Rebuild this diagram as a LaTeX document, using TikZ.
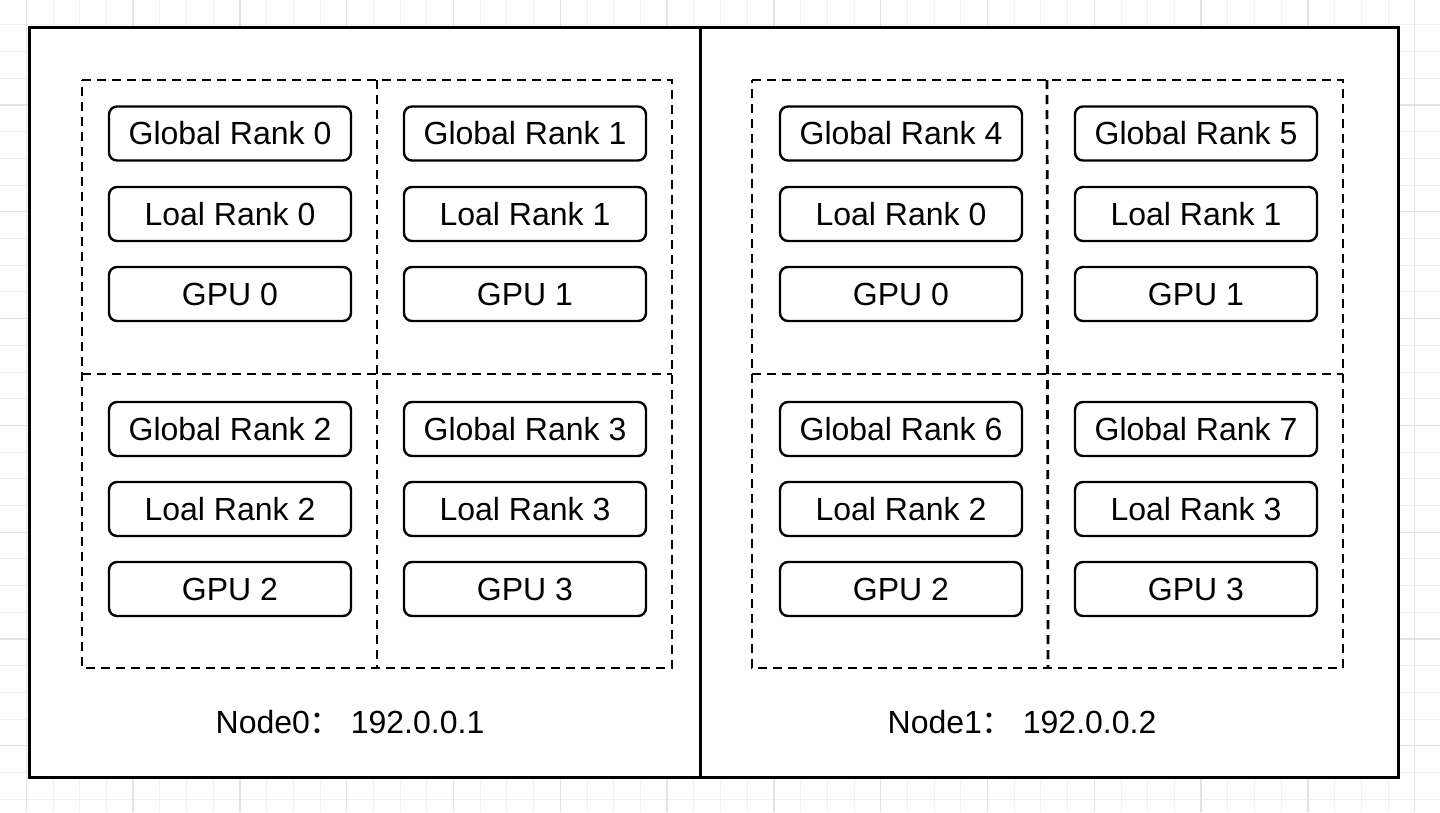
\documentclass[tikz,border=0pt]{standalone}
\usepackage{fontspec}
\setmainfont{Liberation Sans}
\newfontfamily\cjk{Noto Sans CJK SC}
\begin{document}
\begin{tikzpicture}[x=1pt,y=-1pt,
  rk/.style={draw, rounded corners=8pt, line width=2.4pt, minimum width=242pt, minimum height=54pt, inner sep=0pt, font=\fontsize{32}{38}\selectfont},
  quad/.style={minimum width=295pt, minimum height=294pt, anchor=north west, inner sep=0pt, outer sep=0pt},
  dline/.style={dash pattern=on 9pt off 6pt, line width=2.7pt},
  hostbox/.style={draw, line width=2.6pt, fill=white, anchor=north west, inner sep=0pt},
  hostlabel/.style={font=\fontsize{32}{38}\selectfont, inner sep=0pt},
  gridminor/.style={draw=black!6, line width=1pt},
  gridmajor/.style={draw=black!11, line width=1.3pt}]
\useasboundingbox (0,0) rectangle (1440,812);
\fill[white] (0,0) rectangle (1440,812);
% grid
\foreach \i in {-1,...,53} {\draw[gridminor] ({26.3+26.7*\i},0) -- ({26.3+26.7*\i},812);}
\foreach \i in {0,...,31} {\draw[gridminor] (0,{-1.8+26.7*\i}) -- (1440,{-1.8+26.7*\i});}
\foreach \i in {0,...,13} {\draw[gridmajor] ({26.3+106.8*\i},0) -- ({26.3+106.8*\i},812);}
\foreach \i in {0,...,8} {\draw[gridmajor] (0,{-1.8+106.8*\i}) -- (1440,{-1.8+106.8*\i});}
% hosts
\node[hostbox, minimum width=671pt, minimum height=750pt] (host0) at (28,26) {};
\node[hostbox, minimum width=698pt, minimum height=750pt] (host1) at (699,26) {};
% quadrants
\node[quad] (q0a) at (82,80) {};
\node[quad] (q0b) at (377,80) {};
\node[quad] (q0c) at (82,374) {};
\node[quad] (q0d) at (377,374) {};
\node[quad] (q1a) at (752,80) {};
\node[quad] (q1b) at (1048,80) {};
\node[quad] (q1c) at (752,374) {};
\node[quad] (q1d) at (1048,374) {};
\foreach \h in {0,1} {
  \draw[dline] (q\h a.north west) -- (q\h b.north east) -- (q\h d.south east) -- (q\h c.south west) -- cycle;
  \draw[dline] (q\h a.north east) -- (q\h d.south west);
  \draw[dline] (q\h a.south west) -- (q\h b.south east);
}
% node 0
\node[rk] (g0) at (230,133.5) {Global Rank 0};
\node[rk] (l0) at (230,214) {Loal Rank 0};
\node[rk] (p0) at (230,294) {GPU 0};
\node[rk] (g1) at (525,133.5) {Global Rank 1};
\node[rk] (l1) at (525,214) {Loal Rank 1};
\node[rk] (p1) at (525,294) {GPU 1};
\node[rk] (g2) at (230,429) {Global Rank 2};
\node[rk] (l2) at (230,509) {Loal Rank 2};
\node[rk] (p2) at (230,589) {GPU 2};
\node[rk] (g3) at (525,429) {Global Rank 3};
\node[rk] (l3) at (525,509) {Loal Rank 3};
\node[rk] (p3) at (525,589) {GPU 3};
% node 1
\node[rk] (g4) at (901,133.5) {Global Rank 4};
\node[rk] (l4) at (901,214) {Loal Rank 0};
\node[rk] (p4) at (901,294) {GPU 0};
\node[rk] (g5) at (1196,133.5) {Global Rank 5};
\node[rk] (l5) at (1196,214) {Loal Rank 1};
\node[rk] (p5) at (1196,294) {GPU 1};
\node[rk] (g6) at (901,429) {Global Rank 6};
\node[rk] (l6) at (901,509) {Loal Rank 2};
\node[rk] (p6) at (901,589) {GPU 2};
\node[rk] (g7) at (1196,429) {Global Rank 7};
\node[rk] (l7) at (1196,509) {Loal Rank 3};
\node[rk] (p7) at (1196,589) {GPU 3};
% labels
\node[hostlabel] (lab0) at (350,722) {Node0{\cjk ：}\ 192.0.0.1};
\node[hostlabel] (lab1) at (1022,722) {Node1{\cjk ：}\ 192.0.0.2};
\end{tikzpicture}
\end{document}
